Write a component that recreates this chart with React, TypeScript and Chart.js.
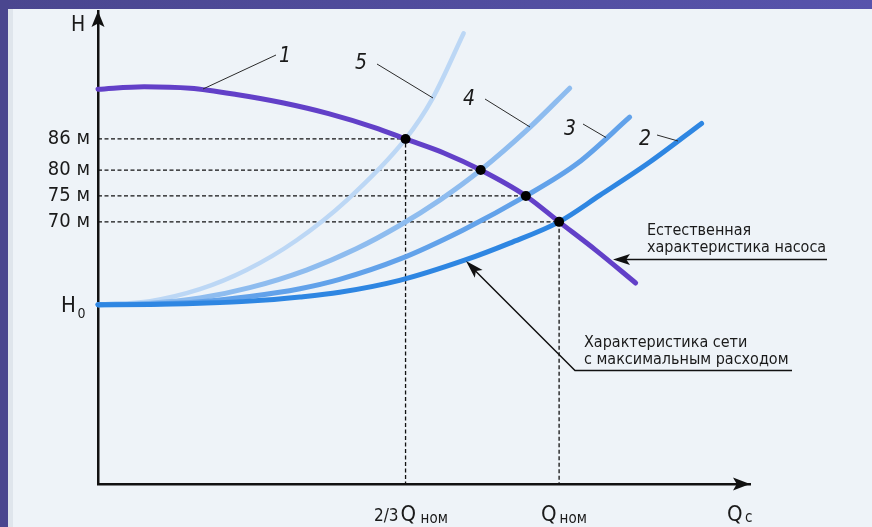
import React, { useEffect, useRef } from "react";
import { Chart, registerables } from "chart.js";

Chart.register(...registerables);

const FONT = '"DejaVu Sans Condensed", "Liberation Sans Narrow", "DejaVu Sans", sans-serif';

// Q expressed as a fraction of Q_nom, H in metres
const pumpQ = [0, 0.1, 0.2, 0.3, 0.4, 0.5, 0.6, 0.667, 0.75, 0.83, 0.928, 1.0, 1.08, 1.166];
const pumpH = [95.6, 96.1, 95.8, 94.6, 93.0, 90.9, 88.2, 86, 83.3, 80, 75, 70, 64.5, 58.2];

const net2Q = [0, 0.113, 0.221, 0.329, 0.438, 0.524, 0.654, 0.795, 0.893, 1.0, 1.088, 1.196, 1.309];
const net2H = [54, 54.05, 54.3, 54.7, 55.5, 56.4, 58.7, 62.6, 65.9, 70, 75.1, 81.5, 89.0];

const net3Q = [0, 0.113, 0.221, 0.329, 0.438, 0.524, 0.654, 0.791, 0.928, 1.04, 1.153];
const net3H = [54, 54.15, 54.6, 55.6, 57.1, 58.9, 62.8, 68.4, 75, 81.3, 90.2];

const net4Q = [0, 0.113, 0.221, 0.329, 0.452, 0.56, 0.654, 0.743, 0.83, 0.93, 1.023];
const net4H = [54, 54.3, 55.3, 57.3, 60.7, 64.8, 69.3, 74.3, 80, 87.7, 95.8];

const net5Q = [0, 0.113, 0.221, 0.322, 0.43, 0.54, 0.667, 0.726, 0.793];
const net5H = [54, 54.7, 57.0, 60.7, 66.4, 74.2, 86, 93.9, 106.4];

const dotQ = [0.667, 0.83, 0.928, 1.0];
const dotH = [86, 80, 75, 70];

const yTickValues = [86, 80, 75, 70];
const H0 = 54;
const xTickValues = [0.667, 1.0];
const curveLabels = ["1", "2", "3", "4", "5"];
const pumpNote = ["Естественная", "характеристика насоса"];
const netNote = ["Характеристика сети", "с максимальным расходом"];

const Y_MIN = 19.4;
const Y_MAX = 110.7;
const X_MIN = 0;
const X_MAX = 1.414;

const toPts = (qs: number[], hs: number[]) => qs.map((q, i) => ({ x: q, y: hs[i] }));

function arrowHead(ctx: CanvasRenderingContext2D, tipX: number, tipY: number, fromX: number, fromY: number, len: number, half: number) {
  const dx = tipX - fromX;
  const dy = tipY - fromY;
  const d = Math.hypot(dx, dy);
  const ux = dx / d;
  const uy = dy / d;
  const px = -uy;
  const py = ux;
  const bx = tipX - ux * len;
  const by = tipY - uy * len;
  const nx = tipX - ux * len * 0.78;
  const ny = tipY - uy * len * 0.78;
  ctx.beginPath();
  ctx.moveTo(tipX, tipY);
  ctx.lineTo(bx + px * half, by + py * half);
  ctx.lineTo(nx, ny);
  ctx.lineTo(bx - px * half, by - py * half);
  ctx.closePath();
  ctx.fill();
}

const decorPlugin = {
  id: "decor",
  afterDraw(chart: any) {
    const ctx: CanvasRenderingContext2D = chart.ctx;
    const xs = chart.scales.x;
    const ys = chart.scales.y;
    const axX = xs.left;
    const axY = ys.bottom;
    ctx.save();
    ctx.fillStyle = "#111";
    ctx.strokeStyle = "#111";
    // axis arrows
    arrowHead(ctx, axX, ys.top, axX, ys.top + 40, 16, 6.5);
    arrowHead(ctx, xs.right, axY, xs.right - 40, axY, 17, 6.5);

    ctx.fillStyle = "#1a1a1a";
    ctx.textBaseline = "alphabetic";
    // H label
    ctx.font = `21px ${FONT}`;
    ctx.textAlign = "center";
    ctx.fillText("H", 78, 31);
    // H0 label
    const h0y = ys.getPixelForValue(H0);
    ctx.textAlign = "left";
    ctx.font = `22px ${FONT}`;
    ctx.fillText("H", 61, h0y + 7.5);
    ctx.font = `14px ${FONT}`;
    ctx.fillText("0", 77.5, h0y + 13.5);

    // x labels
    const base = 521;
    const p23 = xs.getPixelForValue(xTickValues[0]);
    ctx.font = `17px ${FONT}`;
    ctx.textAlign = "right";
    ctx.fillText("2/3", p23 - 7, base);
    ctx.textAlign = "left";
    ctx.font = `22px ${FONT}`;
    ctx.fillText("Q", p23 - 5, base);
    ctx.font = `15px ${FONT}`;
    ctx.fillText("ном", p23 + 15, base + 2);
    const p1 = xs.getPixelForValue(xTickValues[1]);
    ctx.font = `22px ${FONT}`;
    ctx.fillText("Q", p1 - 18, base);
    ctx.font = `15px ${FONT}`;
    ctx.fillText("ном", p1 + 0.5, base + 2);
    ctx.font = `22px ${FONT}`;
    ctx.fillText("Q", xs.right - 23, base);
    ctx.font = `15px ${FONT}`;
    ctx.fillText("c", xs.right - 5, base + 1);

    // curve number labels with leader lines
    const labelPos = [
      { tx: 285, ty: 62, l: [203, 89, 276, 55] },
      { tx: 645, ty: 145, l: [657, 135, 678, 141] },
      { tx: 570, ty: 135, l: [583, 124, 606, 137.5] },
      { tx: 469, ty: 105, l: [485, 99, 530, 127] },
      { tx: 361, ty: 69, l: [377, 64, 433, 98] },
    ];
    ctx.font = `italic 21px ${FONT}`;
    ctx.textAlign = "center";
    ctx.lineWidth = 1;
    ctx.strokeStyle = "#2a2a2a";
    curveLabels.forEach((t, i) => {
      const p = labelPos[i];
      ctx.fillText(t, p.tx, p.ty);
      ctx.beginPath();
      ctx.moveTo(p.l[0], p.l[1]);
      ctx.lineTo(p.l[2], p.l[3]);
      ctx.stroke();
    });

    // notes
    ctx.textAlign = "left";
    ctx.font = `16px ${FONT}`;
    ctx.fillText(pumpNote[0], 647, 235);
    ctx.fillText(pumpNote[1], 647, 252);
    ctx.fillText(netNote[0], 584, 347);
    ctx.fillText(netNote[1], 584, 364);

    ctx.strokeStyle = "#111";
    ctx.fillStyle = "#111";
    ctx.lineWidth = 1.5;
    ctx.beginPath();
    ctx.moveTo(827, 259.5);
    ctx.lineTo(625, 259.5);
    ctx.stroke();
    arrowHead(ctx, 613, 259.5, 700, 259.5, 17, 5.5);

    ctx.beginPath();
    ctx.moveTo(792, 370.5);
    ctx.lineTo(575, 370.5);
    ctx.lineTo(474, 269.5);
    ctx.stroke();
    arrowHead(ctx, 466, 261, 575, 370.5, 18, 5.5);
    ctx.restore();
  },
};

export default function App() {
  const ref = useRef<HTMLCanvasElement | null>(null);

  useEffect(() => {
    if (!ref.current) return;
    const guideStyle = {
      borderColor: "#111",
      borderWidth: 1.3,
      borderDash: [4, 2.5],
      pointRadius: 0,
      tension: 0,
      fill: false,
      order: 5,
    };
    const guides: any[] = dotQ.map((q, i) => ({
      ...guideStyle,
      data:
        i === 0 || i === dotQ.length - 1
          ? [{ x: X_MIN, y: dotH[i] }, { x: q, y: dotH[i] }, { x: q, y: Y_MIN }]
          : [{ x: X_MIN, y: dotH[i] }, { x: q, y: dotH[i] }],
    }));
    const curve = (qs: number[], hs: number[], color: string, width: number, order: number) => ({
      data: toPts(qs, hs),
      borderColor: color,
      borderWidth: width,
      pointRadius: 0,
      cubicInterpolationMode: "monotone",
      borderCapStyle: "round",
      borderJoinStyle: "round",
      fill: false,
      order,
      clip: false,
    });
    const chart = new Chart(ref.current, {
      type: "line",
      data: {
        datasets: [
          {
            data: toPts(dotQ, dotH),
            showLine: false,
            pointRadius: 5,
            pointBackgroundColor: "#000",
            pointBorderColor: "#000",
            pointBorderWidth: 0,
            order: 0,
          },
          curve(pumpQ, pumpH, "#6240c8", 5, 1),
          curve(net2Q, net2H, "#2e86e2", 5, 2),
          curve(net3Q, net3H, "#62a2ea", 5, 3),
          curve(net4Q, net4H, "#8ebcef", 5, 3),
          curve(net5Q, net5H, "#bcd7f5", 4.5, 4),
          ...guides,
        ] as any,
      },
      options: {
        responsive: false,
        devicePixelRatio: 1,
        animation: false,
        events: [],
        layout: { padding: { top: 11, right: 122, left: 0, bottom: 0 } },
        plugins: { legend: { display: false }, tooltip: { enabled: false } },
        scales: {
          x: {
            type: "linear",
            min: X_MIN,
            max: X_MAX,
            border: { display: true, color: "#111", width: 2.5 },
            grid: { display: false, drawTicks: false },
            ticks: { display: false },
            afterFit: (s: any) => {
              s.height = 43;
              s.paddingLeft = 0;
              s.paddingRight = 0;
            },
          },
          y: {
            type: "linear",
            min: Y_MIN,
            max: Y_MAX,
            border: { display: true, color: "#111", width: 2.5 },
            grid: { display: false, drawTicks: false },
            afterBuildTicks: (s: any) => {
              s.ticks = yTickValues.map((v) => ({ value: v }));
            },
            afterFit: (s: any) => {
              s.width = 98;
              s.paddingTop = 0;
              s.paddingBottom = 0;
            },
            ticks: {
              autoSkip: false,
              padding: 8,
              color: "#1a1a1a",
              font: { family: FONT, size: 20 },
              callback: (v: any) => `${v} м`,
            },
          },
        },
      } as any,
      plugins: [decorPlugin],
    });
    return () => chart.destroy();
  }, []);

  return (
    <div
      style={{
        position: "fixed",
        left: 0,
        top: 0,
        width: 872,
        height: 527,
        background: "#eef3f8",
        overflow: "hidden",
      }}
    >
      <div style={{ position: "absolute", left: 0, top: 0, width: 872, height: 9, background: "linear-gradient(90deg, #4a468f, #5753ac)" }} />
      <div style={{ position: "absolute", left: 0, top: 0, width: 8, height: 527, background: "#4a468f" }} />
      <div style={{ position: "absolute", left: 8, top: 9, width: 5, height: 518, background: "#dfe5ec" }} />
      <canvas ref={ref} width={872} height={527} style={{ position: "absolute", left: 0, top: 0 }} />
    </div>
  );
}
